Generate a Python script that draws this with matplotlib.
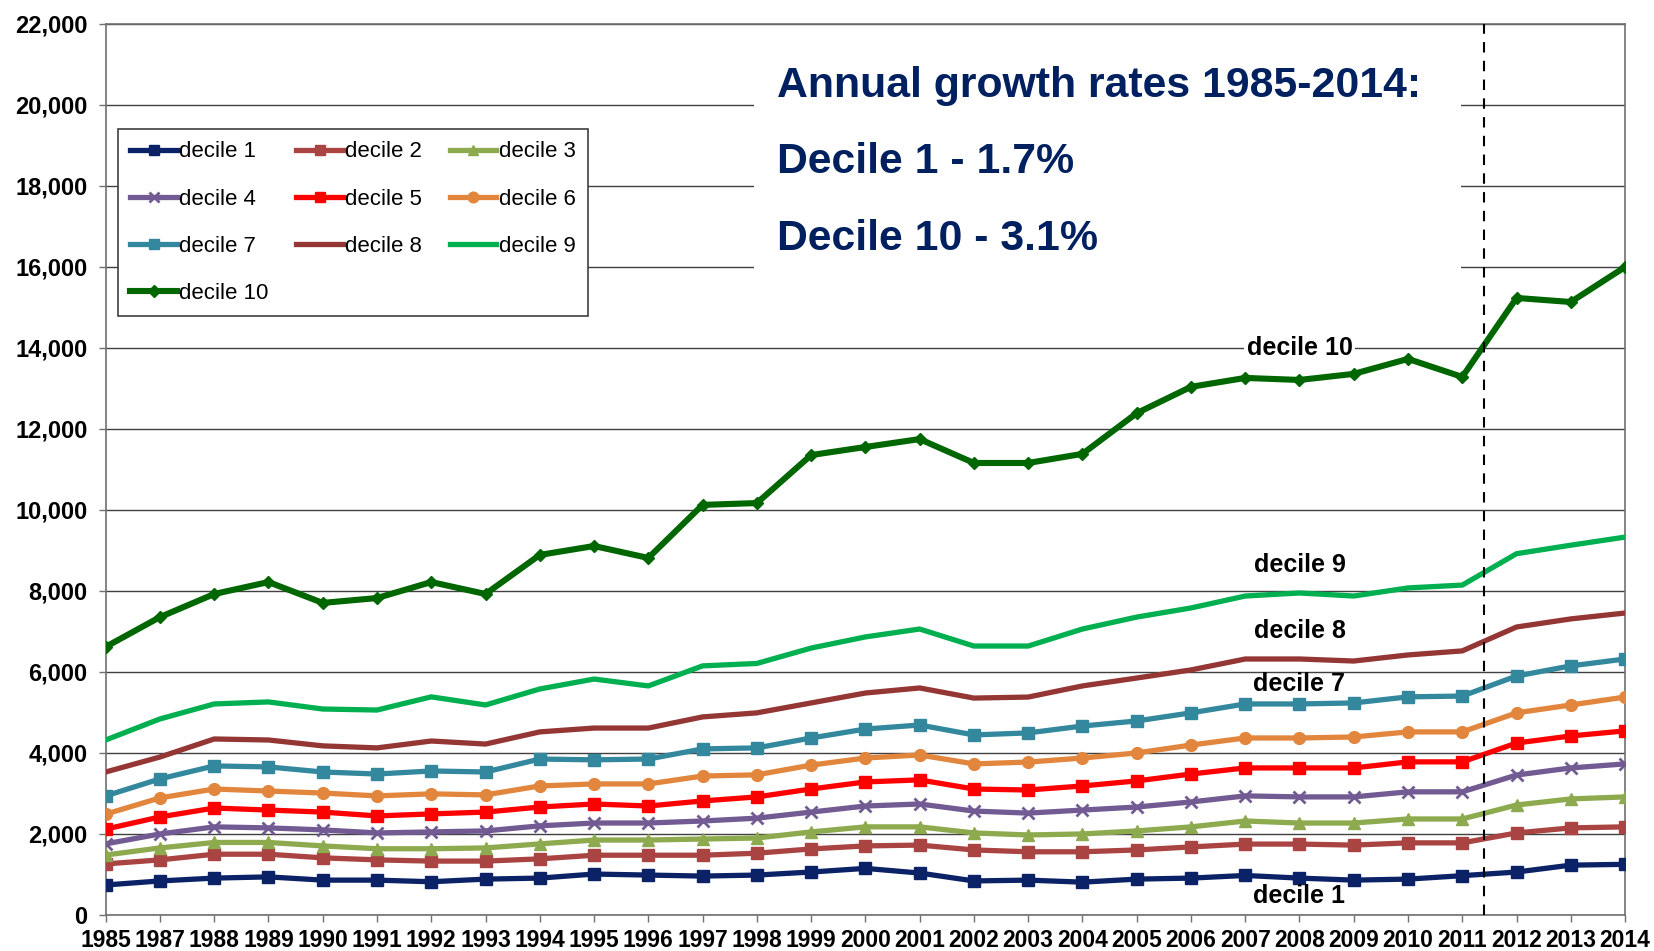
import numpy as np
import matplotlib
matplotlib.use("Agg")
import matplotlib.pyplot as plt
from matplotlib.patches import Rectangle
from matplotlib.ticker import FuncFormatter

# =====================================
# DATA
# =====================================

years = ["1985", "1987", "1988", "1989", "1990", "1991", "1992", "1993", "1994",
         "1995", "1996", "1997", "1998", "1999", "2000", "2001", "2002", "2003",
         "2004", "2005", "2006", "2007", "2008", "2009", "2010", "2011", "2012",
         "2013", "2014"]

decile_1 = [740, 840, 910, 940, 860, 860, 820, 885, 910, 1010, 985, 960, 985, 1060,
            1150, 1035, 840, 860, 810, 885, 910, 975, 910, 860, 885, 970, 1060,
            1230, 1250]
decile_2 = [1260, 1360, 1500, 1500, 1410, 1360, 1330, 1330, 1385, 1475, 1475, 1475,
            1525, 1630, 1705, 1725, 1605, 1560, 1560, 1605, 1680, 1750, 1750, 1725,
            1780, 1780, 2025, 2150, 2175]
decile_3 = [1480, 1655, 1790, 1790, 1705, 1635, 1635, 1655, 1755, 1850, 1850, 1875,
            1900, 2050, 2175, 2175, 2025, 1975, 2000, 2075, 2175, 2320, 2270, 2270,
            2370, 2370, 2715, 2865, 2915]
decile_4 = [1755, 2000, 2175, 2150, 2100, 2025, 2050, 2075, 2200, 2270, 2270, 2320,
            2390, 2540, 2690, 2740, 2565, 2515, 2590, 2665, 2790, 2940, 2915, 2915,
            3040, 3040, 3455, 3630, 3730]
decile_5 = [2120, 2420, 2640, 2590, 2540, 2445, 2495, 2540, 2665, 2740, 2690, 2815,
            2915, 3110, 3285, 3335, 3110, 3085, 3185, 3310, 3480, 3630, 3630, 3630,
            3780, 3780, 4245, 4420, 4545]
decile_6 = [2490, 2890, 3110, 3060, 3010, 2940, 2990, 2965, 3185, 3235, 3235, 3430,
            3460, 3700, 3875, 3950, 3730, 3775, 3875, 4000, 4195, 4370, 4370, 4395,
            4520, 4520, 4990, 5185, 5380]
decile_7 = [2940, 3360, 3680, 3655, 3530, 3480, 3555, 3530, 3850, 3830, 3850, 4100,
            4125, 4370, 4590, 4690, 4445, 4495, 4665, 4790, 4990, 5210, 5210, 5235,
            5385, 5405, 5900, 6150, 6320]
decile_8 = [3530, 3900, 4345, 4320, 4175, 4125, 4295, 4220, 4520, 4615, 4615, 4890,
            4990, 5235, 5480, 5605, 5355, 5380, 5655, 5850, 6050, 6320, 6320, 6270,
            6420, 6520, 7110, 7310, 7455]
decile_9 = [4320, 4840, 5210, 5260, 5085, 5060, 5385, 5185, 5580, 5825, 5655, 6150,
            6210, 6590, 6865, 7060, 6640, 6640, 7060, 7355, 7580, 7875, 7950, 7875,
            8075, 8145, 8920, 9130, 9330]
decile_10 = [6620, 7355, 7925, 8220, 7705, 7825, 8220, 7925, 8890, 9110, 8815, 10125,
             10170, 11355, 11555, 11750, 11160, 11160, 11385, 12390, 13040, 13260,
             13210, 13360, 13730, 13285, 15235, 15135, 16000]

series = [decile_1, decile_2, decile_3, decile_4, decile_5,
          decile_6, decile_7, decile_8, decile_9, decile_10]
labels = ["decile %d" % i for i in range(1, 11)]
colors = ["#0B2366", "#A94442", "#8DAA4F", "#725A93", "#FF0000",
          "#E2863E", "#33889E", "#943634", "#00B050", "#006600"]
markers = ["s", "s", "^", "x", "s", "o", "s", None, None, "D"]

# =====================================
# PLOT
# =====================================

plt.rcParams["font.family"] = ["Liberation Sans", "DejaVu Sans"]

fig = plt.figure(figsize=(16.54, 9.51), dpi=100)
ax = fig.add_axes([0.0639, 0.0379, 0.9186, 0.9369])

x = np.arange(len(years))
handles = []
for vals, lab, col, mk in zip(series, labels, colors, markers):
    lw = 4.4 if lab == "decile 10" else 3.8
    ms = 6.5 if mk == "D" else 8.5
    mew = 2 if mk == "x" else 1
    h, = ax.plot(x, vals, color=col, lw=lw, marker=mk, ms=ms, mew=mew,
                 mec=col, mfc=col, label=lab, zorder=3, solid_joinstyle="round")
    handles.append(h)

ax.set_xlim(0, len(years) - 1)
ax.set_ylim(0, 22000)
ax.set_yticks(np.arange(0, 22001, 2000))
ax.yaxis.set_major_formatter(FuncFormatter(lambda v, p: "{:,}".format(int(v))))
ax.set_xticks(x)
ax.set_xticklabels(years)

ax.set_axisbelow(True)
ax.yaxis.grid(True, color="#404040", lw=1)
for s in ax.spines.values():
    s.set_color("#707070")
    s.set_linewidth(1.2)

ax.tick_params(axis="both", direction="out", length=5, width=1, color="#707070")
ax.tick_params(axis="y", pad=8, labelsize=17)
ax.tick_params(axis="x", pad=5, labelsize=16.5)
for t in ax.get_xticklabels() + ax.get_yticklabels():
    t.set_fontweight("bold")

# dashed break line between 2011 and 2012
ax.axvline(25.4, color="black", lw=1.5, ls=(0, (5, 4)), zorder=4)

# white panel behind the headline text
ax.add_patch(Rectangle((0.4267, 0.713), 0.4655, 0.275, transform=ax.transAxes,
                       facecolor="white", edgecolor="none", zorder=1))

navy = "#002060"
ax.text(0.4419, 0.918, "Annual growth rates 1985-2014:", transform=ax.transAxes,
        fontsize=30.8, fontweight="bold", color=navy, va="baseline", zorder=5)
ax.text(0.4419, 0.833, "Decile 1 - 1.7%", transform=ax.transAxes,
        fontsize=30.8, fontweight="bold", color=navy, va="baseline", zorder=5)
ax.text(0.4419, 0.7465, "Decile 10 - 3.1%", transform=ax.transAxes,
        fontsize=30.8, fontweight="bold", color=navy, va="baseline", zorder=5)

# line labels
ax.text(22, 14000, "decile 10", fontsize=18, fontweight="bold", ha="center",
        va="center", zorder=5,
        bbox=dict(facecolor="white", edgecolor="none", pad=2))
ax.text(22, 8650, "decile 9", fontsize=18, fontweight="bold", ha="center", va="center", zorder=5)
ax.text(22, 7000, "decile 8", fontsize=18, fontweight="bold", ha="center", va="center", zorder=5)
ax.text(22, 5700, "decile 7", fontsize=18, fontweight="bold", ha="center", va="center", zorder=5)
ax.text(22, 480, "decile 1", fontsize=18, fontweight="bold", ha="center", va="center", zorder=5)

# legend, row-wise order in 3 columns
order = [0, 3, 6, 9, 1, 4, 7, 2, 5, 8]
leg = ax.legend([handles[i] for i in order], [labels[i] for i in order],
                ncol=3, loc="upper left", bbox_to_anchor=(0.0081, 0.882),
                borderaxespad=0, fontsize=16, handlelength=2.1,
                handletextpad=0.1, columnspacing=1.25, labelspacing=1.18,
                borderpad=0.55, fancybox=False, framealpha=1,
                edgecolor="#404040", markerscale=0.9)
leg.get_frame().set_linewidth(1.2)
leg.set_zorder(6)

plt.savefig("out.png", dpi=100)
